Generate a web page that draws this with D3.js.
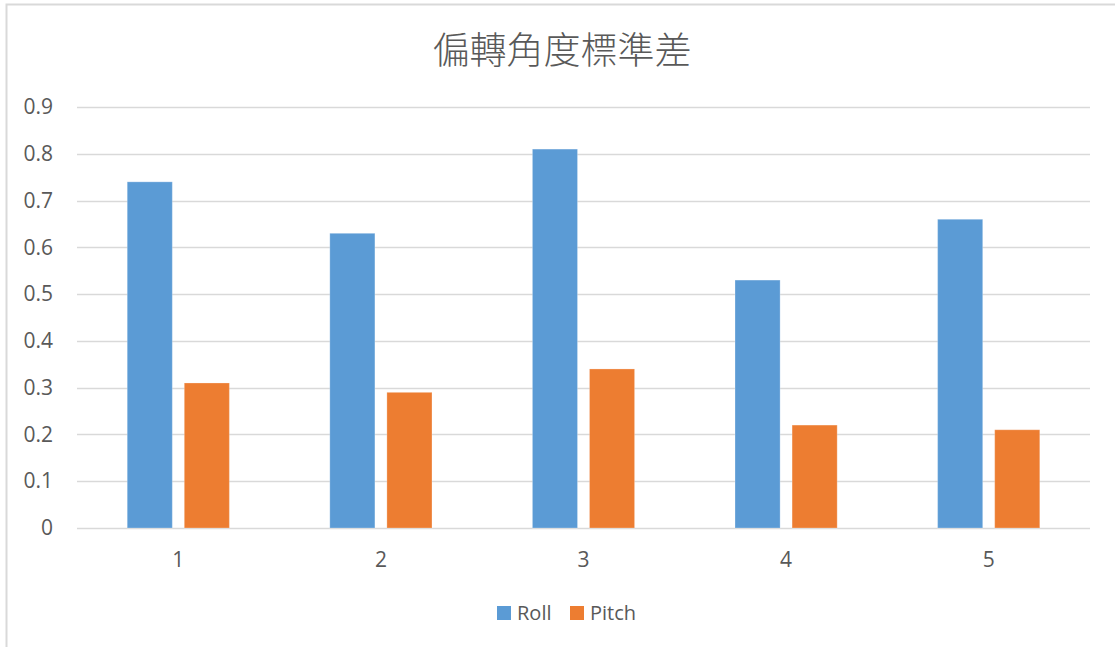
<!DOCTYPE html>
<html>
<head>
<meta charset="utf-8">
<script src="https://cdn.jsdelivr.net/npm/d3@7"></script>
<style>
  html, body { margin: 0; padding: 0; background: #fff; }
  svg { display: block; }
</style>
</head>
<body>
<svg id="chart" width="1115" height="647"></svg>
<script>
// Chart data
const categories = ["1", "2", "3", "4", "5"];
const seriesNames = ["Roll", "Pitch"];
const rollValues = [0.74, 0.63, 0.81, 0.53, 0.66];
const pitchValues = [0.31, 0.29, 0.34, 0.22, 0.21];
const yTicks = [0, 0.1, 0.2, 0.3, 0.4, 0.5, 0.6, 0.7, 0.8, 0.9];
const titleText = "偏轉角度標準差";

const colors = { Roll: "#5B9BD5", Pitch: "#ED7D31" };
const textColor = "#595959";
const gridColor = "#D9D9D9";
const latinFont = "'Open Sans', 'Noto Sans', sans-serif";

const svg = d3.select("#chart");
const W = 1115, H = 647;
const margin = { left: 77, right: 25, top: 107, bottom: 119 };
const plotW = W - margin.left - margin.right;
const plotH = H - margin.top - margin.bottom;

// Chart area frame (top and left edges visible)
svg.append("path")
  .attr("d", `M6.5,${H} V4.5 H${W}`)
  .attr("fill", "none")
  .attr("stroke", gridColor)
  .attr("stroke-width", 2);

const g = svg.append("g").attr("transform", `translate(${margin.left},${margin.top})`);

const x0 = d3.scaleBand().domain(categories).range([0, plotW]).paddingInner(0).paddingOuter(0);
const x1 = d3.scaleBand().domain(seriesNames).range([0, x0.bandwidth()]).paddingInner(0.21).paddingOuter(0.88);
const y = d3.scaleLinear().domain([0, 0.9]).range([plotH, 0]);

// Horizontal gridlines
g.append("g")
  .selectAll("line")
  .data(yTicks)
  .join("line")
  .attr("x1", 0)
  .attr("x2", plotW)
  .attr("y1", d => Math.round(y(d)) + 0.5)
  .attr("y2", d => Math.round(y(d)) + 0.5)
  .attr("stroke", gridColor)
  .attr("stroke-width", 1.5);

// Y axis labels
const yAxis = d3.axisLeft(y).tickValues(yTicks).tickSize(0).tickPadding(24)
  .tickFormat(d => d === 0 ? "0" : d3.format(".1f")(d));
const yAxisG = g.append("g").call(yAxis);
yAxisG.select(".domain").remove();
yAxisG.selectAll("text")
  .attr("fill", textColor)
  .style("font-family", latinFont)
  .style("font-size", "21px");

// X axis labels
const xAxis = d3.axisBottom(x0).tickSize(0).tickPadding(24);
const xAxisG = g.append("g").attr("transform", `translate(0,${plotH})`).call(xAxis);
xAxisG.select(".domain").remove();
xAxisG.selectAll("text")
  .attr("fill", textColor)
  .style("font-family", latinFont)
  .style("font-size", "21px");

// Bars
const rows = categories.map((c, i) => ({ cat: c, Roll: rollValues[i], Pitch: pitchValues[i] }));
g.append("g")
  .selectAll("g")
  .data(rows)
  .join("g")
  .attr("transform", d => `translate(${x0(d.cat)},0)`)
  .selectAll("rect")
  .data(d => seriesNames.map(s => ({ s, v: d[s] })))
  .join("rect")
  .attr("x", d => x1(d.s))
  .attr("width", x1.bandwidth())
  .attr("y", d => y(d.v))
  .attr("height", d => y(0) - y(d.v))
  .attr("fill", d => colors[d.s])
  .attr("stroke", "#ffffff")
  .attr("stroke-opacity", 0.25)
  .attr("stroke-width", 1);

// Title
svg.append("text")
  .attr("x", 562)
  .attr("y", 64)
  .attr("text-anchor", "middle")
  .attr("fill", textColor)
  .style("font-family", "'Noto Sans CJK TC', sans-serif")
  .style("font-weight", 300)
  .style("font-size", "37px")
  .text(titleText);

// Legend
const legend = svg.append("g").attr("transform", "translate(497,606)");
const items = legend.selectAll("g")
  .data(seriesNames)
  .join("g")
  .attr("transform", (d, i) => `translate(${i * 73},0)`);
items.append("rect")
  .attr("width", 14)
  .attr("height", 14)
  .attr("fill", d => colors[d]);
items.append("text")
  .attr("x", 20)
  .attr("y", 14)
  .attr("fill", textColor)
  .style("font-family", latinFont)
  .style("font-size", "20px")
  .text(d => d);
</script>
</body>
</html>
